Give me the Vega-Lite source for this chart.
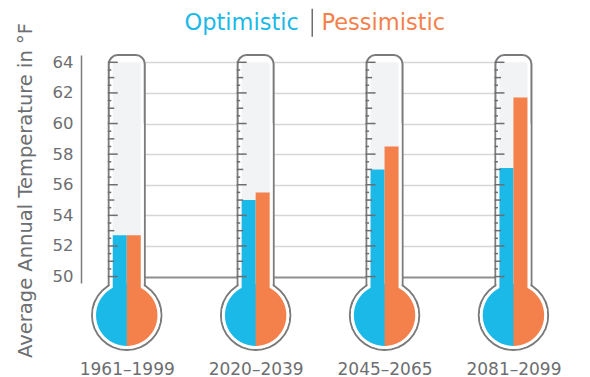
{
  "$schema": "https://vega.github.io/schema/vega-lite/v6.json",
  "width": 465,
  "height": 228,
  "autosize": "none",
  "padding": {"left": 81, "top": 55, "right": 44, "bottom": 94},
  "background": "white",
  "config": {
    "view": {"stroke": null},
    "font": "DejaVu Sans",
    "axis": {"tickSize": 0, "ticks": false, "labelOverlap": false}
  },
  "datasets": {
    "temps": [
      {"period": "1961–1999", "scenario": "Optimistic", "temp": 52.7},
      {"period": "1961–1999", "scenario": "Pessimistic", "temp": 52.7},
      {"period": "2020–2039", "scenario": "Optimistic", "temp": 55.0},
      {"period": "2020–2039", "scenario": "Pessimistic", "temp": 55.5},
      {"period": "2045–2065", "scenario": "Optimistic", "temp": 57.0},
      {"period": "2045–2065", "scenario": "Pessimistic", "temp": 58.5},
      {"period": "2081–2099", "scenario": "Optimistic", "temp": 57.1},
      {"period": "2081–2099", "scenario": "Pessimistic", "temp": 61.7}
    ],
    "periods": [
      {"period": "1961–1999", "major": [50, 52, 54, 56, 58, 60, 62, 64], "mid": [51, 53, 55, 57, 59, 61, 63], "minor": [50.5, 51.5, 52.5, 53.5, 54.5, 55.5, 56.5, 57.5, 58.5, 59.5, 60.5, 61.5, 62.5, 63.5]},
      {"period": "2020–2039", "major": [50, 52, 54, 56, 58, 60, 62, 64], "mid": [51, 53, 55, 57, 59, 61, 63], "minor": [50.5, 51.5, 52.5, 53.5, 54.5, 55.5, 56.5, 57.5, 58.5, 59.5, 60.5, 61.5, 62.5, 63.5]},
      {"period": "2045–2065", "major": [50, 52, 54, 56, 58, 60, 62, 64], "mid": [51, 53, 55, 57, 59, 61, 63], "minor": [50.5, 51.5, 52.5, 53.5, 54.5, 55.5, 56.5, 57.5, 58.5, 59.5, 60.5, 61.5, 62.5, 63.5]},
      {"period": "2081–2099", "major": [50, 52, 54, 56, 58, 60, 62, 64], "mid": [51, 53, 55, 57, 59, 61, 63], "minor": [50.5, 51.5, 52.5, 53.5, 54.5, 55.5, 56.5, 57.5, 58.5, 59.5, 60.5, 61.5, 62.5, 63.5]}
    ]
  },
  "encoding": {
    "x": {
      "field": "period",
      "type": "nominal",
      "scale": {
        "type": "point",
        "domain": ["1961–1999", "2020–2039", "2045–2065", "2081–2099"],
        "range": [45.75, 432.45],
        "padding": 0
      },
      "axis": {
        "title": null,
        "domain": false,
        "ticks": false,
        "tickSize": 0,
        "grid": false,
        "labelAngle": 0,
        "labelFont": "DejaVu Sans",
        "labelFontSize": 17,
        "labelColor": "#6d6e71",
        "labelBaseline": "alphabetic",
        "labelPadding": 91
      }
    }
  },
  "layer": [
    {
      "data": {"name": "periods"},
      "mark": {"type": "bar", "width": 36, "fill": "white", "stroke": "#7b7b7b", "strokeWidth": 2, "cornerRadius": 9},
      "encoding": {
        "y": {
          "datum": 64.47,
          "type": "quantitative",
          "scale": {"domain": [49.58, 64.477], "nice": false, "zero": false},
          "axis": {
            "title": "Average Annual Temperature in °F",
            "values": [50, 52, 54, 56, 58, 60, 62, 64],
            "tickCount": 8,
            "labelOverlap": false,
            "grid": true,
            "gridColor": {"condition": {"test": "datum.value === 50", "value": "#8e8e8e"}, "value": "#d6d6d6"},
            "gridWidth": {"condition": {"test": "datum.value === 50", "value": 2}, "value": 1.5},
            "domain": true,
            "domainColor": "#7b7b7b",
            "domainWidth": 1.5,
            "ticks": false,
            "tickSize": 0,
            "labelFont": "DejaVu Sans",
            "labelFontSize": 16.5,
            "labelColor": "#6d6e71",
            "labelPadding": 8,
            "titleFont": "DejaVu Sans",
            "titleFontSize": 19.5,
            "titleFontWeight": "normal",
            "titleColor": "#6d6e71",
            "titleX": -49.5,
            "titleY": 135,
            "titleAlign": "center",
            "titleBaseline": "alphabetic",
            "titleAngle": -90
          }
        },
        "y2": {"datum": 47.47}
      }
    },
    {
      "data": {"name": "periods"},
      "mark": {"type": "point", "shape": "circle", "filled": true, "fill": "white", "stroke": "#7b7b7b", "strokeWidth": 2, "size": 4816, "opacity": 1},
      "encoding": {"y": {"datum": 47.47, "type": "quantitative"}}
    },
    {
      "data": {"name": "periods"},
      "mark": {"type": "point", "shape": "circle", "filled": true, "fill": "white", "strokeWidth": 0, "size": 4543, "opacity": 1},
      "encoding": {"y": {"datum": 47.47, "type": "quantitative"}}
    },
    {
      "data": {"name": "periods"},
      "mark": {"type": "bar", "width": 34, "fill": "white"},
      "encoding": {"y": {"datum": 60, "type": "quantitative"}, "y2": {"datum": 47.47}}
    },
    {
      "data": {"name": "periods"},
      "mark": {"type": "bar", "width": 28, "fill": "#f2f3f5", "cornerRadiusTopLeft": 2, "cornerRadiusTopRight": 2},
      "encoding": {"y": {"datum": 64, "type": "quantitative"}, "y2": {"datum": 47.47}}
    },
    {
      "data": {"name": "temps"},
      "transform": [{"filter": "datum.scenario === 'Optimistic'"}],
      "mark": {"type": "bar", "width": 14, "xOffset": -7},
      "encoding": {
        "y": {"field": "temp", "type": "quantitative"},
        "y2": {"datum": 47.47},
        "color": {
          "field": "scenario",
          "type": "nominal",
          "scale": {"domain": ["Optimistic", "Pessimistic"], "range": ["#1ab9e8", "#f4804b"]},
          "legend": {
            "title": null,
            "orient": "none",
            "direction": "horizontal",
            "legendX": 83,
            "legendY": -44,
            "symbolType": "M0,-2.8L0,2.8",
            "symbolSize": 100,
            "symbolStrokeWidth": 1.5,
            "labelFont": "DejaVu Sans",
            "labelFontSize": 22.5,
            "labelOffset": -2,
            "labelLimit": 0,
            "columnPadding": 2,
            "encode": {
              "symbols": {"update": {"fill": {"value": "transparent"}, "stroke": {"signal": "datum.value === 'Optimistic' ? 'transparent' : '#6d6e71'"}, "strokeWidth": {"value": 1.5}, "opacity": {"value": 1}}},
              "labels": {"update": {"fill": {"signal": "datum.value === 'Optimistic' ? '#1ab9e8' : '#f4804b'"}}}
            }
          }
        }
      }
    },
    {
      "data": {"name": "temps"},
      "transform": [{"filter": "datum.scenario === 'Pessimistic'"}],
      "mark": {"type": "bar", "width": 14, "xOffset": 7},
      "encoding": {
        "y": {"field": "temp", "type": "quantitative"},
        "y2": {"datum": 47.47},
        "color": {"field": "scenario", "type": "nominal"}
      }
    },
    {
      "data": {"name": "periods"},
      "mark": {"type": "point", "shape": "M0.05,-1L0,-1A1,1,0,0,0,0,1L0.05,1Z", "filled": true, "fill": "#1ab9e8", "strokeWidth": 0, "size": 3770, "opacity": 1},
      "encoding": {"y": {"datum": 47.47, "type": "quantitative"}}
    },
    {
      "data": {"name": "periods"},
      "mark": {"type": "point", "shape": "M0,-1A1,1,0,0,1,0,1Z", "filled": true, "fill": "#f4804b", "strokeWidth": 0, "size": 3770, "opacity": 1},
      "encoding": {"y": {"datum": 47.47, "type": "quantitative"}}
    },
    {
      "data": {"name": "periods"},
      "transform": [{"flatten": ["minor"]}],
      "mark": {"type": "tick", "orient": "horizontal", "size": 3.5, "thickness": 1.5, "xOffset": -17.2, "color": "#6d6e71", "opacity": 1},
      "encoding": {"y": {"field": "minor", "type": "quantitative"}}
    },
    {
      "data": {"name": "periods"},
      "transform": [{"flatten": ["mid"]}],
      "mark": {"type": "tick", "orient": "horizontal", "size": 6.5, "thickness": 1.5, "xOffset": -15.7, "color": "#6d6e71", "opacity": 1},
      "encoding": {"y": {"field": "mid", "type": "quantitative"}}
    },
    {
      "data": {"name": "periods"},
      "transform": [{"flatten": ["major"]}],
      "mark": {"type": "tick", "orient": "horizontal", "size": 10, "thickness": 1.5, "xOffset": -14, "color": "#6d6e71", "opacity": 1},
      "encoding": {"y": {"field": "major", "type": "quantitative"}}
    }
  ]
}
